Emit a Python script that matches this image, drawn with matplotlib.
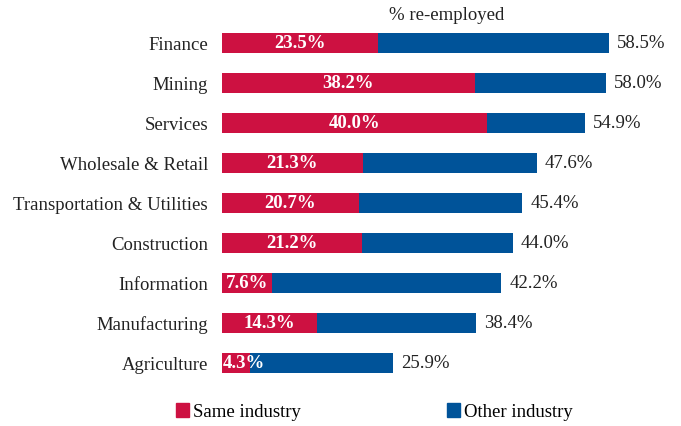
import numpy as np
import matplotlib.pyplot as plt
from matplotlib.patches import Patch

plt.rcParams['font.family'] = ['Liberation Serif', 'DejaVu Serif']

industries = ['Finance', 'Mining', 'Services', 'Wholesale & Retail',
              'Transportation & Utilities', 'Construction', 'Information',
              'Manufacturing', 'Agriculture']
same_industry = [23.5, 38.2, 40.0, 21.3, 20.7, 21.2, 7.6, 14.3, 4.3]
total_reemployed = [58.5, 58.0, 54.9, 47.6, 45.4, 44.0, 42.2, 38.4, 25.9]

red = '#CD1141'
blue = '#005399'
fs = 13.5

same = np.array(same_industry)
total = np.array(total_reemployed)
other = total - same
y = np.arange(len(industries))

fig = plt.figure(figsize=(6.81, 4.26), dpi=100)
ax = fig.add_axes([222 / 681, 1 - 383 / 426, 450 / 681, 360 / 426])

ax.barh(y, same, height=0.5, color=red)
ax.barh(y, other, left=same, height=0.5, color=blue)

for i in range(len(y)):
    xl = max(same[i] / 2, 3.3)
    ax.text(xl, y[i], f'{same[i]:.1f}%', ha='center', va='center',
            color='white', fontweight='bold', fontsize=fs)
    ax.text(total[i] + 1.2, y[i], f'{total[i]:.1f}%', ha='left', va='center',
            color='#222222', fontsize=fs)

ax.set_xlim(0, 68)
ax.set_ylim(len(y) - 0.5, -0.5)
ax.set_yticks(y)
ax.set_yticklabels(industries, fontsize=fs, color='#222222')
ax.tick_params(axis='y', length=0, pad=10)
ax.set_xticks([])
for s in ax.spines.values():
    s.set_visible(False)

fig.text(447 / 681, 1 - 16 / 426, '% re-employed', ha='center', va='center',
         fontsize=fs, color='#222222')

handles = [Patch(color=red, label='Same industry'),
           Patch(color=blue, label='Other industry')]
fig.legend(handles=handles, loc='center', bbox_to_anchor=(374 / 681, 1 - 412 / 426),
           ncol=2, frameon=False, fontsize=fs, handlelength=0.7, handleheight=0.7,
           handletextpad=0.2, columnspacing=7.8, borderpad=0)

fig.savefig('out.png', dpi=100)
